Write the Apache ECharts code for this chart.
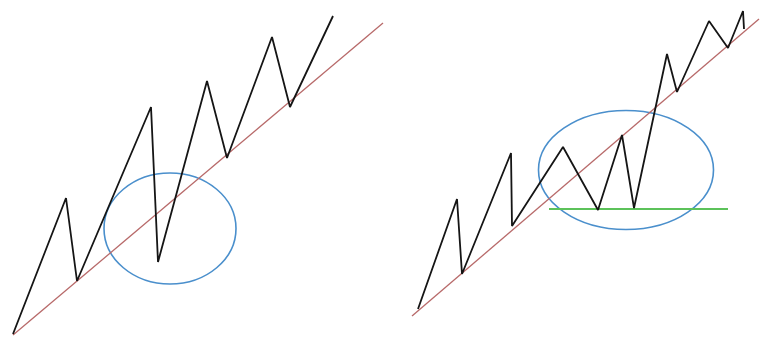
<!DOCTYPE html>
<html>
<head>
<meta charset="utf-8">
<script src="https://cdn.jsdelivr.net/npm/echarts@6/dist/echarts.min.js"></script>
<style>
  html, body { margin: 0; padding: 0; background: #fff; }
  #main { width: 760px; height: 338px; }
</style>
</head>
<body>
<div id="main"></div>
<script>
// drawing coordinates: x to the right, y downwards (0..760, 0..338)
var leftPrice = [[13, 334], [66, 198], [77, 281], [151, 107], [158, 262], [207, 81], [227, 158], [272, 37], [290, 107], [333, 16]];
var leftTrend = [[13, 335], [383, 23]];
var leftCircle = [[170, 228.5, 66, 55.5]];

var rightPrice = [[418, 309], [457, 199], [462, 274], [511, 153], [512, 226], [563, 147], [598, 210], [622, 135], [634, 208], [667, 54], [677, 92], [709, 21], [728, 48], [743, 11], [744, 29]];
var rightTrend = [[412, 316], [759, 19]];
var rightCircle = [[626, 170, 87.5, 59.5]];
var supportLine = [[549, 209], [728, 209]];

function lineSeries(data, color, width) {
  return {
    type: 'line',
    data: data,
    symbol: 'none',
    silent: true,
    animation: false,
    lineStyle: { color: color, width: width }
  };
}

function ellipseSeries(data) {
  return {
    type: 'custom',
    data: data,
    silent: true,
    animation: false,
    renderItem: function (params, api) {
      var c = api.coord([api.value(0), api.value(1)]);
      var s = api.size([api.value(2), api.value(3)]);
      return {
        type: 'ellipse',
        shape: { cx: c[0], cy: c[1], rx: s[0], ry: s[1] },
        style: { fill: 'none', stroke: '#4a8fcc', lineWidth: 1.6 }
      };
    }
  };
}

var chart = echarts.init(document.getElementById('main'));
chart.setOption({
  backgroundColor: '#fff',
  grid: { left: 0, right: 0, top: 0, bottom: 0 },
  xAxis: { type: 'value', min: 0, max: 760, show: false },
  yAxis: { type: 'value', min: 0, max: 338, inverse: true, show: false },
  series: [
    lineSeries(leftTrend, '#b86a6a', 1.3),
    lineSeries(rightTrend, '#b86a6a', 1.3),
    lineSeries(supportLine, '#5cc25a', 1.8),
    ellipseSeries(leftCircle),
    ellipseSeries(rightCircle),
    lineSeries(leftPrice, '#151515', 1.8),
    lineSeries(rightPrice, '#151515', 1.8)
  ]
});
</script>
</body>
</html>
